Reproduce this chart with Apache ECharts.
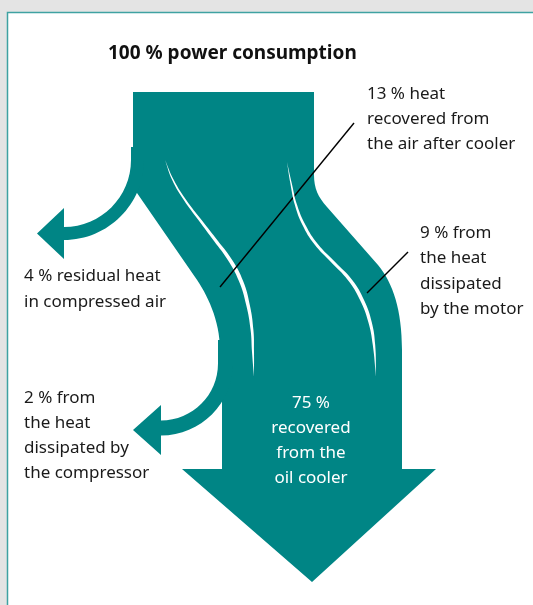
<!DOCTYPE html>
<html><head><meta charset="utf-8">
<script src="https://cdn.jsdelivr.net/npm/echarts@6/dist/echarts.min.js"></script>
<style>html,body{margin:0;padding:0;background:#e4e4e4}#c{width:533px;height:605px}</style>
</head><body><div id="c"></div>
<script>
// ---- data ----
const categories = ['power consumption', 'residual heat in compressed air', 'heat dissipated by the compressor',
  'heat recovered from the air after cooler', 'heat dissipated by the motor', 'recovered from the oil cooler'];
const shares = [100, 4, 2, 13, 9, 75];
const labelLines = [
  ['{v} % power consumption'],
  ['{v} % residual heat', 'in compressed air'],
  ['{v} % from', 'the heat', 'dissipated by', 'the compressor'],
  ['{v} % heat', 'recovered from', 'the air after cooler'],
  ['{v} % from', 'the heat', 'dissipated', 'by the motor'],
  ['{v} %', 'recovered', 'from the', 'oil cooler']
];

// ---- layout (axis units of the hidden pixel-like grid) ----
const TEAL = '#008585';
const FONT = '"Noto Sans", "Open Sans", sans-serif';
const LAYOUT = [
  { // 100 % : main body
    paths: [[['M',133,92],['L',314,92],['L',314,175],['C',314,188,318,197,327,207],['L',378,265],
      ['C',393,283,402,310,402,350],['L',402,469],['L',436,469],['L',312,582],['L',182,469],['L',222,469],
      ['L',222,400],['L',220,350],['C',220,320,207,294,195,277],['L',137,193],['L',133,170],['Z']]],
    text: {x:108, y:58, lh:25, align:'left', weight:'bold', size:19, color:'#111'}
  },
  { // 4 %
    paths: [[['M',131,147],['L',131,160],['C',131,197,101,227,64,227],['L',64,208],['L',37,233.5],['L',64,259],
      ['L',64,240],['C',108.2,240,144,204.2,144,160],['L',144,147],['Z']]],
    text: {x:24, y:280, lh:26, align:'left', size:17, color:'#1a1a1a'}
  },
  { // 2 %
    paths: [[['M',218,340],['L',218,363.5],['C',218,395,192.5,420.5,161,420.5],['L',161,405],['L',133,430],
      ['L',161,455],['L',161,435.5],['C',200.8,435.5,233,403.3,233,363.5],['L',233,340],['Z']]],
    text: {x:24, y:402, lh:25, align:'left', size:17, color:'#1a1a1a'}
  },
  { // 13 %
    sliver: [[165,160,0],[173,180,0.8],[185,200,1.2],[200,220,1.6],[216,241,2.0],[230,260,2.2],[241,281,2.1],
      [248,305,1.8],[252,330,1.4],[253,352,1.0],[254,377,0]],
    leader: [220,287,354,123],
    text: {x:367, y:98, lh:25, align:'left', size:17, color:'#1a1a1a'}
  },
  { // 9 %
    sliver: [[287,162,0],[291,183,0.7],[296,205,1.1],[304,225,1.5],[316,244,1.8],[333,262,2.1],[350,280,2.2],
      [362,300,2.0],[370,322,1.7],[374,345,1.2],[376,377,0]],
    leader: [367,293,408,252],
    text: {x:420, y:237, lh:25.5, align:'left', size:17, color:'#1a1a1a'}
  },
  { // 75 %
    text: {x:311, y:407, lh:25, align:'center', size:17, color:'#ffffff'}
  }
];

function pathData(cmds, api) {
  return cmds.map(c => {
    if (c[0] === 'Z') return 'Z';
    const out = [c[0]];
    for (let i = 1; i < c.length; i += 2) {
      const p = api.coord([c[i], c[i + 1]]);
      out.push(p[0].toFixed(2), p[1].toFixed(2));
    }
    return out.join(' ');
  }).join(' ');
}

function renderItem(params, api) {
  const i = params.dataIndex;
  const v = api.value(1);
  const L = LAYOUT[i];
  const children = [];
  (L.paths || []).forEach(cmds => children.push({
    type: 'path', shape: {pathData: pathData(cmds, api)}, style: {fill: TEAL}
  }));
  if (L.sliver) {
    const left = L.sliver.map(s => api.coord([s[0] - s[2], s[1]]));
    const right = L.sliver.slice().reverse().map(s => api.coord([s[0] + s[2], s[1]]));
    children.push({type: 'polygon', shape: {points: left.concat(right), smooth: 0.45}, style: {fill: '#ffffff'}});
  }
  if (L.leader) {
    const a = api.coord([L.leader[0], L.leader[1]]), b = api.coord([L.leader[2], L.leader[3]]);
    children.push({type: 'line', shape: {x1: a[0], y1: a[1], x2: b[0], y2: b[1]}, style: {stroke: '#000', lineWidth: 1.4}});
  }
  const t = L.text;
  labelLines[i].forEach((line, k) => {
    const p = api.coord([t.x, t.y + k * t.lh + t.size * 0.26]);
    children.push({
      type: 'text',
      style: {
        text: line.replace('{v}', v), x: p[0], y: p[1], align: t.align, verticalAlign: 'bottom',
        fill: t.color, font: (t.weight || 'normal') + ' ' + t.size + 'px ' + FONT
      }
    });
  });
  return {type: 'group', children};
}

const chart = echarts.init(document.getElementById('c'), null, {renderer: 'canvas'});
chart.setOption({
  backgroundColor: '#e4e4e4',
  animation: false,
  grid: {left: 0, right: 0, top: 0, bottom: 0},
  xAxis: {type: 'value', min: 0, max: 533, show: false},
  yAxis: {type: 'value', min: 0, max: 605, inverse: true, show: false},
  graphic: [{
    type: 'rect', z: -10, shape: {x: 7.5, y: 12.5, width: 540, height: 600},
    style: {fill: '#ffffff', stroke: '#3fa2a2', lineWidth: 1.5}
  }],
  series: [{
    type: 'custom', name: 'energy flow', coordinateSystem: 'cartesian2d', z: 5,
    data: shares.map((v, i) => ({name: categories[i], value: [i, v]})),
    renderItem: renderItem,
    clip: false
  }]
});
</script></body></html>
